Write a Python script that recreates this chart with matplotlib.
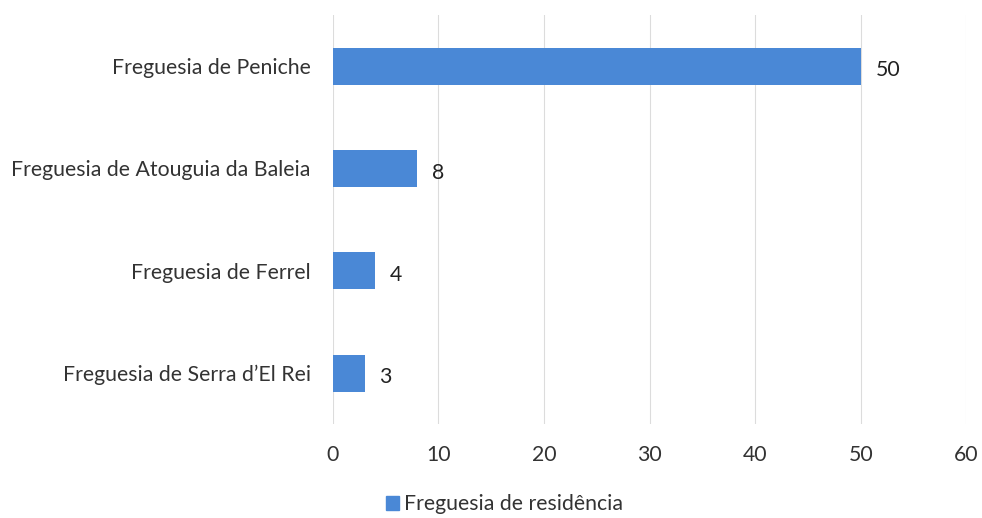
import matplotlib.pyplot as plt
from matplotlib.patches import Patch

plt.rcParams['font.family'] = ['Lato', 'DejaVu Sans']

freguesias = ['Freguesia de Peniche', 'Freguesia de Atouguia da Baleia',
              'Freguesia de Ferrel', "Freguesia de Serra d\u2019El Rei"]
residentes = [50, 8, 4, 3]
serie = 'Freguesia de residência'

cor = '#4a88d6'

fig = plt.figure(figsize=(9.82, 5.18), dpi=100)
ax = fig.add_axes([0.339, 0.181, 0.645, 0.790])

pos = list(range(len(freguesias)))
ax.barh(pos, residentes, height=0.36, color=cor, zorder=2)
ax.set_yticks(pos)
ax.set_yticklabels(freguesias, fontsize=15.3, color='#333333')
ax.set_ylim(3.5, -0.5)

ax.set_xlim(0, 60)
ax.set_xticks(range(0, 61, 10))
ax.tick_params(axis='x', labelsize=15.3, colors='#333333', length=0, pad=15)
ax.tick_params(axis='y', length=0, pad=16)
ax.xaxis.grid(True, color='#dcdcdc', linewidth=0.8, zorder=0)
for s in ax.spines.values():
    s.set_visible(False)

for p, v in zip(pos, residentes):
    ax.text(v + 1.4, p + 0.04, str(v), va='center', ha='left', fontsize=15.3, color='#222222')

fig.legend(handles=[Patch(color=cor)], labels=[serie], loc='lower center',
           bbox_to_anchor=(0.514, -0.03), frameon=False, fontsize=15.3,
           handlelength=0.6, handleheight=0.6, handletextpad=0.25,
           labelcolor='#333333')

fig.savefig('out.png', dpi=100)
